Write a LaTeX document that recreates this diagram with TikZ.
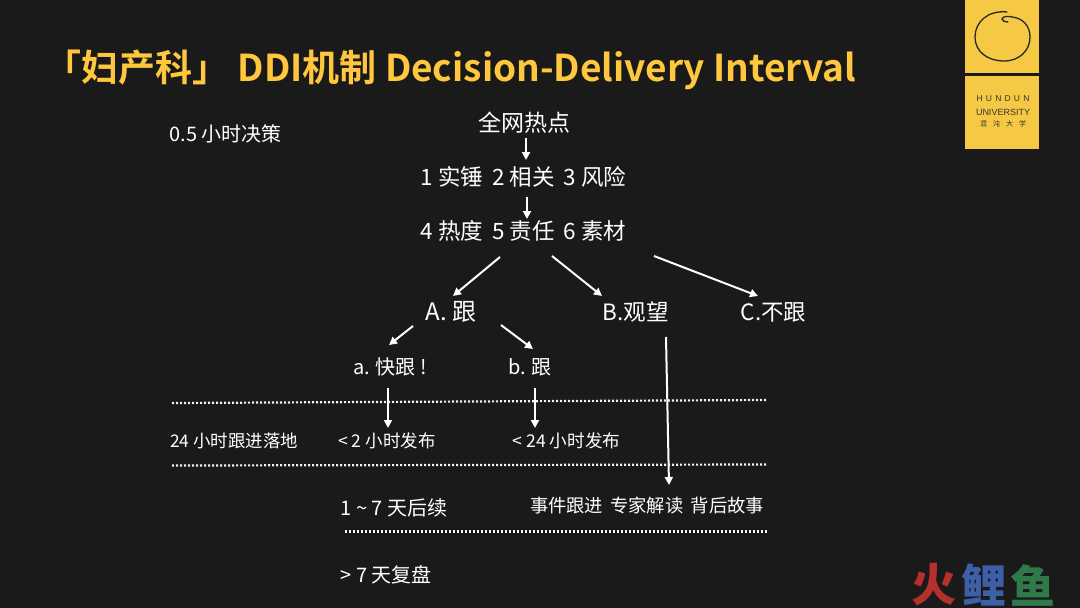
\documentclass[tikz,border=0pt]{standalone}
\usepackage{fontspec}
\setmainfont{Noto Sans CJK SC}
\newfontfamily\boldcjk{Noto Sans CJK SC Bold}
\newfontfamily\blackcjk{Noto Sans CJK SC Black}
\newfontfamily\logofont{Liberation Sans}
\definecolor{bgc}{HTML}{1A1A1A}
\definecolor{ttl}{HTML}{FFC73E}
\definecolor{logoy}{HTML}{F6C945}
\definecolor{dotc}{HTML}{F4F4F4}
\definecolor{wmr}{HTML}{B5302B}
\definecolor{wmb}{HTML}{3D5FA8}
\definecolor{wmg}{HTML}{2E7A4A}
\usetikzlibrary{arrows.meta}
\tikzset{
 lbl/.style={text=white,inner sep=0pt,anchor=center,font=\fontsize{#1}{#1}\selectfont},
 lbl/.default=22,
 arr/.style={draw=white,line width=2pt,-{Triangle[length=8pt,width=8pt]}},
 dotline/.style={draw=dotc,line width=2.2pt,dash pattern=on 2pt off 2pt},
 logot/.style={text=black!80,inner sep=0pt,font=\logofont\fontsize{#1}{#1}\selectfont},
 wm/.style={inner sep=0pt,font=\blackcjk\fontsize{45}{45}\selectfont}
}
\begin{document}
\begin{tikzpicture}[x=1pt,y=-1pt]
\path[use as bounding box,fill=bgc] (0,0) rectangle (1080,608);
% title
\node[inner sep=0pt,anchor=west,text=ttl,font=\boldcjk\fontsize{37}{37}\selectfont] (title) at (44,70) {「妇产科」 DDI机制 Decision-Delivery Interval};
% logo
\fill[logoy] (965,0) rectangle (1039,73);
\fill[logoy] (965,76) rectangle (1039,149);
\draw[black!85,line width=1.3pt,line cap=round] (1007,12) .. controls (988,10) and (975,22) .. (975,37) .. controls (975,52) and (988,61) .. (1004,61) .. controls (1020,61) and (1030,50) .. (1030,37) .. controls (1030,25) and (1022,18) .. (1012,17) .. controls (1008,16) and (1003,16) .. (1002,19) .. controls (1002,21) and (1005,22) .. (1008,22);
\node[logot=8.5] (hd) at (1003,99) {H\hspace{3.2pt}U\hspace{3.2pt}N\hspace{3.2pt}D\hspace{3.2pt}U\hspace{3.2pt}N};
\node[logot=9] (un) at (1003,112) {UNIVERSITY};
\node[logot=7,font=\fontsize{7}{7}\selectfont] (hdcn) at (1003,124) {混\hspace{6pt}沌\hspace{6pt}大\hspace{6pt}学};
% texts
\node[lbl=20] (half) at (225.5,134) {0.5 小时决策};
\node[lbl=23] (hot) at (524,123) {全网热点};
\node[lbl=22.5] (r1) at (523.5,177) {1 实锤 \,2 相关 \,3 风险};
\node[lbl=22.5] (r2) at (523.5,231) {4 热度 \,5 责任 \,6 素材};
\node[lbl=24] (A) at (451,312) {A. 跟};
\node[lbl=22.5] (B) at (635.5,312) {B.观望};
\node[lbl=22.5] (C) at (773.5,312) {C.不跟};
\node[lbl=20] (a) at (390,367) {a. 快跟 !};
\node[lbl=20] (b) at (530,367) {b. 跟};
\node[lbl=17.4] (h24) at (234,441) {24 小时跟进落地};
\node[lbl=17.5] (p2) at (387,441) {< 2 小时发布};
\node[lbl=17.6] (p24) at (566.5,441) {< 24 小时发布};
\node[lbl=20] (d7) at (394,508) {1 {\char"7E} 7 天后续};
\node[lbl=18.3] (ev) at (647,506) {事件跟进 \,专家解读 \,背后故事};
\node[lbl=20] (d8) at (386,575) {> 7 天复盘};
% connectors
\draw[arr] (526,138) -- (526,160);
\draw[arr] (527,197) -- (527,219);
\coordinate (s1) at (500,257); \coordinate (e1) at (453,296);
\coordinate (s2) at (552,256); \coordinate (e2) at (602,296);
\coordinate (s3) at (654,256); \coordinate (e3) at (758,296);
\draw[arr] (s1) -- (e1);
\draw[arr] (s2) -- (e2);
\draw[arr] (s3) -- (e3);
\coordinate (s4) at (413,326); \coordinate (e4) at (389,345);
\coordinate (s5) at (501,325); \coordinate (e5) at (533,349);
\draw[arr] (s4) -- (e4);
\draw[arr] (s5) -- (e5);
\coordinate (s6) at (388,388); \coordinate (e6) at (388,428);
\coordinate (s7) at (535,388); \coordinate (e7) at (535,428);
\draw[arr] (s6) -- (e6);
\draw[arr] (s7) -- (e7);
\coordinate (s8) at (666,337); \coordinate (e8) at (669,485);
\draw[arr] (s8) -- (e8);
% dotted lines
\coordinate (l1a) at (172,403); \coordinate (l1b) at (767,400);
\coordinate (l2a) at (172,465.5); \coordinate (l2b) at (767,464.5);
\coordinate (l3a) at (345,531.5); \coordinate (l3b) at (768,531.5);
\draw[dotline] (l1a) -- (l1b);
\draw[dotline] (l2a) -- (l2b);
\draw[dotline] (l3a) -- (l3b);
% watermark
\node[wm,text=wmr,anchor=center] (w1) at (934,585) {火};
\node[wm,text=wmb,anchor=center] (w2) at (984,585) {鲤};
\node[wm,text=wmg,anchor=center] (w3) at (1033,585) {鱼};
\end{tikzpicture}
\end{document}
